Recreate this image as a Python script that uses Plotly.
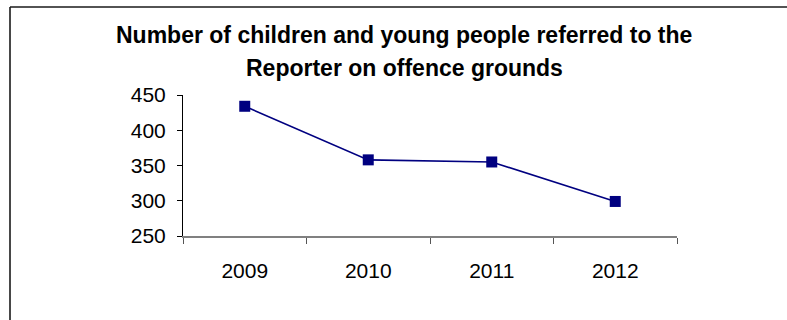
import plotly.graph_objects as go

years = ["2009", "2010", "2011", "2012"]
referrals = [434, 358, 355, 299]
y_ticks = [250, 300, 350, 400, 450]
title_lines = ["Number of children and young people referred to the",
               "Reporter on offence grounds"]

FONT = "Liberation Sans, Arial, sans-serif"

fig = go.Figure()
fig.add_trace(go.Scatter(
    x=years, y=referrals, mode="lines+markers",
    line=dict(color="#000080", width=1.6),
    marker=dict(symbol="square", size=11, color="#000080"),
    showlegend=False, hoverinfo="skip",
))

W, H = 787, 320
L, R, T, B = 183, 110, 95, 84
pw, ph = W - L - R, H - T - B


def px_to_paper(px, py):
    return (px - L) / pw, (H - B - py) / ph


fig.update_layout(
    width=W, height=H,
    margin=dict(l=L, r=R, t=T, b=B, pad=0),
    paper_bgcolor="white", plot_bgcolor="white",
    font=dict(family=FONT, size=21, color="black"),
)

fig.update_xaxes(
    type="category", range=[-0.5, 3.5],
    showline=True, linecolor="#808080", linewidth=2,
    ticks="outside", tickson="boundaries", ticklen=6, tickcolor="#555", tickwidth=1,
    showgrid=False, zeroline=False, ticklabelstandoff=15,
    tickfont=dict(family=FONT, size=21, color="black"),
)
fig.update_yaxes(
    range=[250, 450], tickvals=y_ticks,
    showline=True, linecolor="black", linewidth=1,
    ticks="outside", ticklen=5, tickcolor="black", tickwidth=1,
    showgrid=False, zeroline=False, ticklabelstandoff=7,
    tickfont=dict(family=FONT, size=21, color="black"),
)

# title lines
for text, py in zip(title_lines, [34.5, 68]):
    x, y = px_to_paper(404, py)
    fig.add_annotation(text=f"<b>{text}</b>", xref="paper", yref="paper",
                       x=x, y=y, xanchor="center", yanchor="middle",
                       showarrow=False, font=dict(family=FONT, size=23, color="black"))

# outer frame (left and top edges; right/bottom lie outside the picture)
fx0, fy_top = px_to_paper(10, 7)
fx1, fy_bot = px_to_paper(W + 100, H + 50)
frame = dict(color="#1a1a1a", width=1.6)
fig.add_shape(type="line", xref="paper", yref="paper", x0=fx0, y0=fy_top, x1=fx1, y1=fy_top,
              line=frame, layer="above")
fig.add_shape(type="line", xref="paper", yref="paper", x0=fx0, y0=fy_top, x1=fx0, y1=fy_bot,
              line=frame, layer="above")

fig.write_html(
    "out.html",
    config={"displayModeBar": False, "staticPlot": True},
    post_script=("document.documentElement.style.overflow='hidden';"
                 "document.body.style.margin='0';document.body.style.overflow='hidden';"),
)
